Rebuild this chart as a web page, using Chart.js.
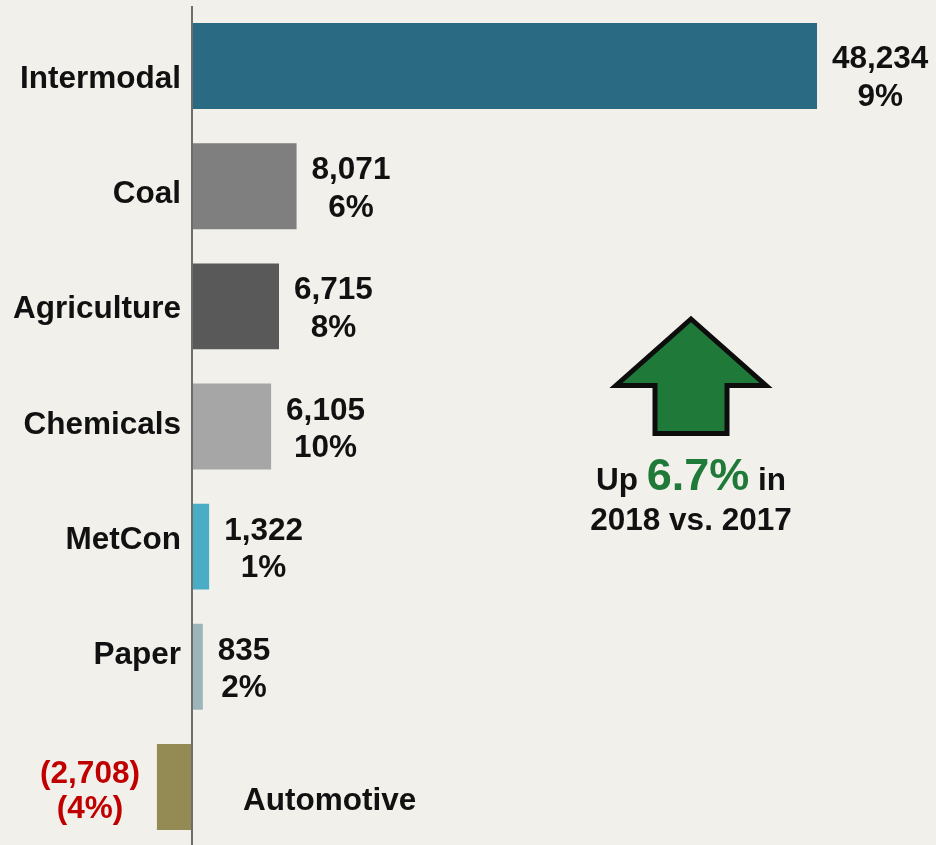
<!DOCTYPE html>
<html>
<head>
<meta charset="utf-8">
<script src="https://cdn.jsdelivr.net/npm/chart.js@4.4.1/dist/chart.umd.min.js"></script>
<style>
  html, body { margin: 0; padding: 0; background: #f2f0eb; overflow: hidden; }
  #wrap { width: 936px; height: 845px; overflow: hidden; }
  canvas { display: block; }
</style>
</head>
<body>
<div id="wrap"><canvas id="chart" width="936" height="847"></canvas></div>
<script>
// carloads change 2018 vs 2017, by segment
const categories = ["Intermodal", "Coal", "Agriculture", "Chemicals", "MetCon", "Paper", "Automotive"];
const changes = [48234, 8071, 6715, 6105, 1322, 835, -2708];
const pctChanges = [9, 6, 8, 10, 1, 2, -4];
const barColors = ["#2a6a82", "#7f7f7f", "#595959", "#a6a6a6", "#4bacc6", "#9bb5bb", "#948a54"];
const totalUp = "6.7%";

const FONT = "'Liberation Sans', Arial, sans-serif";
const TEXT = "#111111";
const RED = "#c00000";
const GREEN = "#1f7a3a";

// x range picked so the zero line lands where the original axis is
const xMin = -14817;
const xMax = 57417;

function fmtNum(v) {
  let s = Math.abs(v).toLocaleString("en-US");
  return v < 0 ? "(" + s + ")" : s;
}
function fmtPct(v) {
  return v < 0 ? "(" + Math.abs(v) + "%)" : v + "%";
}

// small nudges so labels sit like in the slide
const valueNudge = [9, 0, 0, 0, 0, 0, 3.5];

const labelsPlugin = {
  id: "labelsPlugin",
  afterDatasetsDraw(chart) {
    const ctx = chart.ctx;
    const xs = chart.scales.x;
    const area = chart.chartArea;
    const zeroX = xs.getPixelForValue(0);
    const meta = chart.getDatasetMeta(0);

    ctx.save();
    // vertical axis line
    ctx.strokeStyle = "#6d6d6d";
    ctx.lineWidth = 2;
    ctx.beginPath();
    ctx.moveTo(zeroX, area.top);
    ctx.lineTo(zeroX, chart.height);
    ctx.stroke();

    ctx.font = "bold 31.5px " + FONT;
    ctx.textBaseline = "alphabetic";

    meta.data.forEach((bar, i) => {
      let v = changes[i];
      // category label
      ctx.fillStyle = TEXT;
      if (v >= 0) {
        ctx.textAlign = "right";
        ctx.fillText(categories[i], zeroX - 11, bar.y + 22.3 - 5.1 * i);
      } else {
        ctx.textAlign = "left";
        ctx.fillText(categories[i], zeroX + 51, bar.y + 23);
      }

      // value + percent label
      let l1 = fmtNum(v);
      let l2 = fmtPct(pctChanges[i]);
      let w = Math.max(ctx.measureText(l1).width, ctx.measureText(l2).width);
      let cx = v >= 0 ? bar.x + 15 + w / 2 : bar.x - 17 - w / 2;
      let y1 = bar.y - 7 + valueNudge[i];
      ctx.textAlign = "center";
      ctx.fillStyle = v >= 0 ? TEXT : RED;
      ctx.fillText(l1, cx, y1);
      ctx.fillText(l2, cx, y1 + (v >= 0 ? 37.5 : 35));
    });

    // green arrow call-out
    ctx.beginPath();
    ctx.moveTo(691, 319);
    ctx.lineTo(766, 385.5);
    ctx.lineTo(727, 385.5);
    ctx.lineTo(727, 433.5);
    ctx.lineTo(655, 433.5);
    ctx.lineTo(655, 385.5);
    ctx.lineTo(616, 385.5);
    ctx.closePath();
    ctx.fillStyle = GREEN;
    ctx.fill();
    ctx.lineWidth = 5;
    ctx.lineJoin = "miter";
    ctx.strokeStyle = "#0d0d0d";
    ctx.stroke();

    // "Up 6.7% in" with the big green number
    let small = "bold 31.5px " + FONT;
    let big = "bold 45px " + FONT;
    ctx.textAlign = "left";
    ctx.font = small;
    let wUp = ctx.measureText("Up ").width;
    let wIn = ctx.measureText(" in").width;
    ctx.font = big;
    let wNum = ctx.measureText(totalUp).width;
    let x0 = 691 - (wUp + wNum + wIn) / 2;
    ctx.font = small;
    ctx.fillStyle = TEXT;
    ctx.fillText("Up ", x0, 490);
    ctx.fillText(" in", x0 + wUp + wNum, 490);
    ctx.font = big;
    ctx.fillStyle = GREEN;
    ctx.fillText(totalUp, x0 + wUp, 490);
    ctx.font = small;
    ctx.fillStyle = TEXT;
    ctx.textAlign = "center";
    ctx.fillText("2018 vs. 2017", 691, 530);
    ctx.restore();
  },
};

const chart = new Chart(document.getElementById("chart"), {
  type: "bar",
  data: {
    labels: categories,
    datasets: [
      {
        data: changes,
        backgroundColor: barColors,
        borderWidth: 0,
        barPercentage: 0.715,
        categoryPercentage: 1,
      },
    ],
  },
  options: {
    indexAxis: "y",
    responsive: false,
    animation: false,
    layout: { padding: { top: 6, bottom: 0, left: 0, right: 0 } },
    scales: {
      x: { display: false, min: xMin, max: xMax },
      y: { display: false },
    },
    plugins: {
      legend: { display: false },
      tooltip: { enabled: false },
    },
  },
  plugins: [labelsPlugin],
});
</script>
</body>
</html>
